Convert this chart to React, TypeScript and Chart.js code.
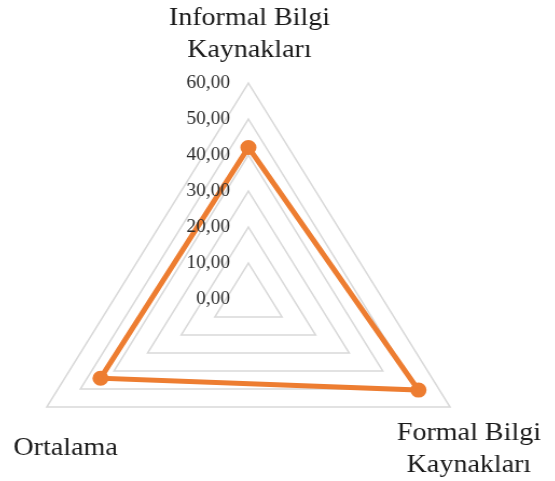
import React, { useEffect, useRef } from 'react';
import { Chart, registerables } from 'chart.js';

Chart.register(...registerables);

// ---- data ----
const categories: string[][] = [['Informal Bilgi', 'Kaynakları'], ['Formal Bilgi', 'Kaynakları'], ['Ortalama']];
const seriesValues: number[] = [42.1, 50.6, 44.0];
const tickValues: number[] = [0, 10, 20, 30, 40, 50, 60];
const tickLabels: string[] = ['0,00', '10,00', '20,00', '30,00', '40,00', '50,00', '60,00'];

// ---- layout / style ----
const STRETCH = 1.078;
const CANVAS = 600;
const PAD = 84;
const LEFT = 248.3 - STRETCH * (CANVAS / 2);
const TOP = 298.7 - CANVAS / 2;

// label placement relative to each outer vertex: [dx, baseline dy of first line], line height
const labelOffsets: [number, number][] = [[1, -58], [17.5, 33], [17.5, 48]];
const LABEL_LINE = 32;

const customText = {
  id: 'customText',
  afterDraw(chart: any) {
    const scale = chart.scales.r;
    const ctx = chart.ctx as CanvasRenderingContext2D;
    ctx.save();
    // tick labels, right-aligned left of the vertical axis
    ctx.font = '18px "Liberation Serif", "Times New Roman", serif';
    ctx.fillStyle = '#2b2b2b';
    ctx.textAlign = 'right';
    ctx.textBaseline = 'middle';
    tickValues.forEach((v, i) => {
      const d = scale.getDistanceFromCenterForValue(v);
      ctx.fillText(tickLabels[i], scale.xCenter - 17, scale.yCenter - d);
    });
    // category labels
    ctx.font = '26px "Liberation Serif", "Times New Roman", serif';
    ctx.fillStyle = '#1a1a1a';
    ctx.textAlign = 'center';
    ctx.textBaseline = 'alphabetic';
    categories.forEach((lines, i) => {
      const p = scale.getPointPosition(i, scale.drawingArea);
      const [dx, dy] = labelOffsets[i];
      lines.forEach((t, j) => {
        ctx.fillText(t, p.x + dx, p.y + dy + j * LABEL_LINE);
      });
    });
    ctx.restore();
  },
};

export default function App() {
  const ref = useRef<HTMLCanvasElement | null>(null);
  useEffect(() => {
    if (!ref.current) return;
    const chart = new Chart(ref.current, {
      type: 'radar',
      data: {
        labels: categories.map((c) => c.join(' ')),
        datasets: [
          {
            data: seriesValues,
            borderColor: '#ED7D31',
            backgroundColor: '#ED7D31',
            pointBackgroundColor: '#ED7D31',
            pointBorderColor: '#ED7D31',
            borderWidth: 5,
            pointRadius: 5,
            fill: false,
            tension: 0,
          },
        ],
      },
      options: {
        animation: false,
        responsive: false,
        layout: { padding: PAD },
        plugins: { legend: { display: false }, tooltip: { enabled: false } },
        scales: {
          r: {
            min: 0,
            max: 60,
            ticks: { stepSize: 10, display: false },
            grid: { color: '#d9d9d9', lineWidth: 1.5 },
            angleLines: { display: false },
            pointLabels: { display: false },
          },
        },
      },
      plugins: [customText],
    });
    return () => chart.destroy();
  }, []);
  return (
    <div
      style={{
        position: 'fixed',
        left: LEFT,
        top: TOP,
        width: CANVAS,
        height: CANVAS,
        transform: `scaleX(${STRETCH})`,
        transformOrigin: '0 0',
      }}
    >
      <canvas ref={ref} width={CANVAS} height={CANVAS} />
    </div>
  );
}
